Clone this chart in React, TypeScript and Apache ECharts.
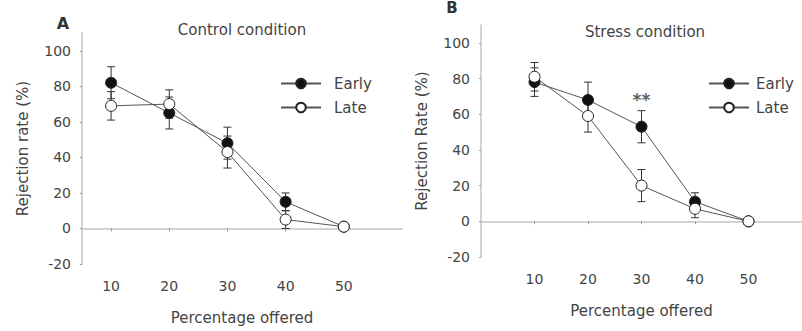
import React, { useEffect, useRef } from "react";
import * as echarts from "echarts";

const offered = [10, 20, 30, 40, 50];
const yTicks = [-20, 0, 20, 40, 60, 80, 100];

const controlEarly = [82, 65, 48, 15, 1];
const controlEarlyErr = [9, 9, 9, 5, 0];
const controlLate = [69, 70, 43, 5, 1];
const controlLateErr = [8, 8, 9, 5, 0];

const stressEarly = [78, 68, 53, 11, 0];
const stressEarlyErr = [8, 10, 9, 5, 0];
const stressLate = [81, 59, 20, 7, 0];
const stressLateErr = [8, 9, 9, 5, 0];

const stressAnnotations = [{ x: 30, y: 68, text: "**" }];

const FONT = "DejaVu Sans";
const TEXT = "#444";
const AXIS = "#c4c4c4";

function pairs(vals: number[]) {
  return offered.map((x, i) => [x, vals[i]]);
}
function errTriples(vals: number[], errs: number[]) {
  return offered.map((x, i) => [x, vals[i], errs[i]]);
}

function errorSeries(data: number[][], idx: number) {
  return {
    type: "custom",
    xAxisIndex: idx,
    yAxisIndex: idx,
    z: 1,
    silent: true,
    data,
    renderItem: (_p: any, api: any) => {
      const x = api.value(0);
      const y = api.value(1);
      const e = api.value(2);
      if (!e) return { type: "group", children: [] };
      const top = api.coord([x, y + e]);
      const bot = api.coord([x, y - e]);
      const w = 4;
      const st = { stroke: "#333", lineWidth: 1 };
      return {
        type: "group",
        children: [
          { type: "line", shape: { x1: top[0], y1: top[1], x2: bot[0], y2: bot[1] }, style: st },
          { type: "line", shape: { x1: top[0] - w, y1: top[1], x2: top[0] + w, y2: top[1] }, style: st },
          { type: "line", shape: { x1: bot[0] - w, y1: bot[1], x2: bot[0] + w, y2: bot[1] }, style: st },
        ],
      };
    },
  };
}

function lineSeries(name: string, vals: number[], idx: number, filled: boolean) {
  return {
    type: "line",
    name,
    xAxisIndex: idx,
    yAxisIndex: idx,
    data: pairs(vals),
    symbol: "circle",
    symbolSize: 11,
    z: 3,
    lineStyle: { color: "#555", width: 1 },
    itemStyle: {
      color: filled ? "#111" : "#fff",
      borderColor: "#222",
      borderWidth: 1,
    },
  };
}

function xAxis(idx: number, min: number, nameGap: number) {
  return {
    type: "value",
    gridIndex: idx,
    min,
    max: 60,
    name: "Percentage offered",
    nameLocation: "middle",
    nameGap,
    nameTextStyle: { color: TEXT, fontFamily: FONT, fontSize: 15 },
    axisLine: { show: true, lineStyle: { color: AXIS, width: 1.5 } },
    axisTick: { show: true, length: 3, customValues: offered, lineStyle: { color: "#999" } },
    axisLabel: { customValues: offered, color: TEXT, fontFamily: FONT, fontSize: 14, margin: 15 },
    splitLine: { show: false },
  };
}

function yAxis(idx: number, name: string) {
  return {
    type: "value",
    gridIndex: idx,
    min: -20,
    max: 110,
    name,
    nameLocation: "middle",
    nameGap: 52,
    nameTextStyle: { color: TEXT, fontFamily: FONT, fontSize: 15 },
    axisLine: { show: true, lineStyle: { color: AXIS, width: 1.5 } },
    axisTick: { show: true, length: 2, customValues: yTicks, lineStyle: { color: "#999" } },
    axisLabel: { customValues: yTicks, color: TEXT, fontFamily: FONT, fontSize: 14, margin: 11 },
    splitLine: { show: false },
  };
}

function legend(left: number, pad: number) {
  return {
    data: ["Early", "Late"],
    orient: "vertical",
    left,
    top: 71,
    itemWidth: 40,
    itemHeight: 12,
    itemGap: 9,
    selectedMode: false,
    textStyle: { color: TEXT, fontFamily: FONT, fontSize: 15, padding: [0, 0, 0, pad] },
  };
}

export default function App() {
  const ref = useRef<HTMLDivElement>(null);
  useEffect(() => {
    if (!ref.current) return;
    const chart = echarts.init(ref.current, undefined, { renderer: "svg" });
    chart.setOption({
      animation: false,
      backgroundColor: "#fff",
      title: [
        { text: "A", left: 58, top: 10, textAlign: "center", textStyle: { color: "#333", fontFamily: FONT, fontSize: 16, fontWeight: "bold" } },
        { text: "B", left: 452, top: 0, padding: 0, textAlign: "center", textStyle: { color: "#333", fontFamily: FONT, fontSize: 15, fontWeight: "bold" } },
        { text: "Control condition", left: 237, top: 17, textAlign: "center", textStyle: { color: TEXT, fontFamily: FONT, fontSize: 15, fontWeight: "normal" } },
        { text: "Stress condition", left: 640, top: 19, textAlign: "center", textStyle: { color: TEXT, fontFamily: FONT, fontSize: 15, fontWeight: "normal" } },
      ],
      legend: [legend(275, 8), legend(703, 2)],
      grid: [
        { left: 82, top: 33, width: 320, height: 231 },
        { left: 481, top: 25, width: 321, height: 232 },
      ],
      xAxis: [xAxis(0, 5, 46), xAxis(1, 0, 46)],
      yAxis: [yAxis(0, "Rejection rate (%)"), yAxis(1, "Rejection Rate (%)")],
      series: [
        errorSeries(errTriples(controlEarly, controlEarlyErr), 0),
        errorSeries(errTriples(controlLate, controlLateErr), 0),
        lineSeries("Early", controlEarly, 0, true),
        lineSeries("Late", controlLate, 0, false),
        errorSeries(errTriples(stressEarly, stressEarlyErr), 1),
        errorSeries(errTriples(stressLate, stressLateErr), 1),
        lineSeries("Early", stressEarly, 1, true),
        lineSeries("Late", stressLate, 1, false),
        {
          type: "scatter",
          xAxisIndex: 1,
          yAxisIndex: 1,
          symbolSize: 0,
          silent: true,
          data: stressAnnotations.map((a) => ({ value: [a.x, a.y], text: a.text })),
          label: {
            show: true,
            position: "inside",
            formatter: (p: any) => p.data.text,
            color: "#333",
            fontFamily: FONT,
            fontSize: 17,
            fontWeight: "bold",
          },
        },
      ],
    });
    return () => chart.dispose();
  }, []);
  return (
    <div
      ref={ref}
      style={{ position: "fixed", left: 0, top: 0, width: 802, height: 331, background: "#fff" }}
    />
  );
}
